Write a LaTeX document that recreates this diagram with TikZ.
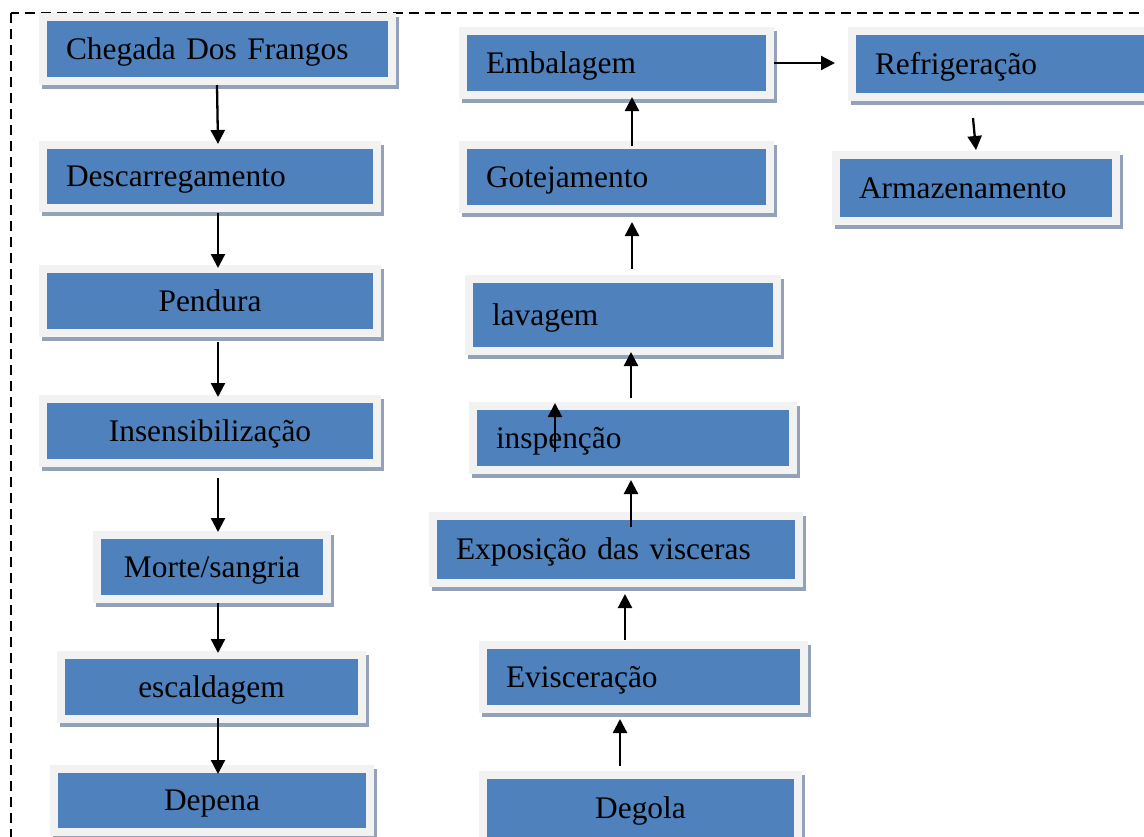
\documentclass[tikz,border=0pt]{standalone}
\usepackage{fontspec}
\setmainfont{Liberation Serif}
\usetikzlibrary{arrows.meta}
\definecolor{boxblue}{RGB}{79,129,189}
\definecolor{framegrey}{RGB}{242,242,242}
\definecolor{shadowcol}{RGB}{148,162,185}
\tikzset{
  stepbox/.style={rectangle, fill=boxblue, draw=framegrey, line width=8pt,
    outer sep=0pt, inner ysep=0pt, text height=20.8pt, text depth=0pt,
    font=\fontsize{31.4pt}{38pt}\selectfont, text=black,
    preaction={fill=shadowcol, draw=shadowcol, line width=8pt,
      transform canvas={shift={(3pt,-4pt)}}}},
  leftbox/.style={stepbox, align=left, inner xsep=23pt},
  midbox/.style={stepbox, align=center, inner xsep=0pt},
  flow/.style={line width=2.3pt, -{Triangle[width=14pt,length=14pt]}},
  outline/.style={line width=2.6pt, dash pattern=on 10pt off 6pt}
}
\begin{document}
\begin{tikzpicture}[x=1pt,y=-1pt]
\clip (0,0) rectangle (1144,836);
\draw[outline] (11,13) rectangle (1160,860);
% left column
\node[leftbox, text width=303pt, minimum height=64pt] (chegada) at (217.5,49) {Chegada Dos Frangos};
\node[leftbox, text width=288pt, minimum height=63pt] (descar) at (210,176.5) {Descarregamento};
\node[midbox, minimum width=334pt, minimum height=64pt] (pendura) at (210,301) {Pendura};
\node[midbox, minimum width=334pt, minimum height=64pt] (insens) at (210,431) {Insensibilização};
\node[midbox, minimum width=230pt, minimum height=64pt] (morte) at (212,567) {Morte/sangria};
\node[midbox, minimum width=301pt, minimum height=64pt] (escald) at (211.5,687) {escaldagem};
\node[midbox, minimum width=316pt, minimum height=63pt] (depena) at (212,800.5) {Depena};
% middle column
\node[midbox, minimum width=315pt, minimum height=66pt] (degola) at (640.5,808) {Degola};
\node[leftbox, text width=275pt, minimum height=64pt] (evisc) at (643.5,677) {Evisceração};
\node[leftbox, text width=320pt, minimum height=67pt] (expos) at (616,549.5) {Exposição das visceras};
\node[leftbox, text width=274pt, minimum height=64pt] (inspen) at (633,438) {inspenção};
\node[leftbox, text width=262pt, minimum height=72pt] (lavagem) at (623,315) {lavagem};
\node[leftbox, text width=261pt, minimum height=64pt] (gotej) at (616.5,177) {Gotejamento};
\node[leftbox, text width=261pt, minimum height=64pt] (embal) at (616.5,63) {Embalagem};
% right column
\node[leftbox, text width=286pt, minimum height=66pt] (refrig) at (1018,64) {Refrigeração};
\node[leftbox, text width=234pt, minimum height=66pt] (armaz) at (976,188) {Armazenamento};
% connectors, left column (downwards)
\draw[flow] ([xshift=-0.5pt,yshift=-4pt]chegada.south) -- ([xshift=8pt,yshift=1pt]descar.north);
\draw[flow] ([xshift=8pt,yshift=-5pt]descar.south) -- ([xshift=8pt,yshift=1pt]pendura.north);
\draw[flow] ([xshift=8pt,yshift=-9pt]pendura.south) -- ([xshift=8pt,yshift=2pt]insens.north);
\draw[flow] ([xshift=8pt,yshift=-15pt]insens.south) -- ([xshift=6pt,yshift=3pt]morte.north);
\draw[flow] ([xshift=6pt,yshift=-4pt]morte.south) -- ([xshift=6.5pt,yshift=2pt]escald.north);
\draw[flow] ([xshift=6.5pt,yshift=1pt]escald.south) -- ([xshift=6pt,yshift=-5pt]depena.north);
% middle column (upwards)
\draw[flow] ([xshift=-20.5pt,yshift=9pt]degola.north) -- ([xshift=-23.5pt,yshift=-10pt]evisc.south);
\draw[flow] ([xshift=-18.5pt,yshift=5pt]evisc.north) -- ([xshift=9pt,yshift=-11pt]expos.south);
\draw[flow] ([xshift=15pt,yshift=-11pt]expos.north) -- ([xshift=-2pt,yshift=-10pt]inspen.south);
\draw[flow] ([xshift=-2pt,yshift=8pt]inspen.north) -- ([xshift=-2pt,yshift=-1pt]lavagem.south -| inspen.north);
\draw[flow] ([xshift=9pt,yshift=10pt]lavagem.north) -- ([xshift=15.5pt,yshift=-13pt]gotej.south);
\draw[flow] ([xshift=15.5pt,yshift=-1pt]gotej.north) -- ([xshift=15.5pt,yshift=-2pt]embal.south);
% to the right column
\draw[flow] ([xshift=4pt]embal.east) -- ([xshift=-17pt,yshift=1pt]refrig.west);
\draw[flow] ([xshift=121pt,yshift=-21pt]refrig.south west) -- ([yshift=5pt]armaz.north);
% stray arrow inside inspencao
\draw[flow] ([xshift=-78pt,yshift=-14pt]inspen.center) -- ([xshift=-78pt,yshift=35pt]inspen.center);
\end{tikzpicture}
\end{document}
